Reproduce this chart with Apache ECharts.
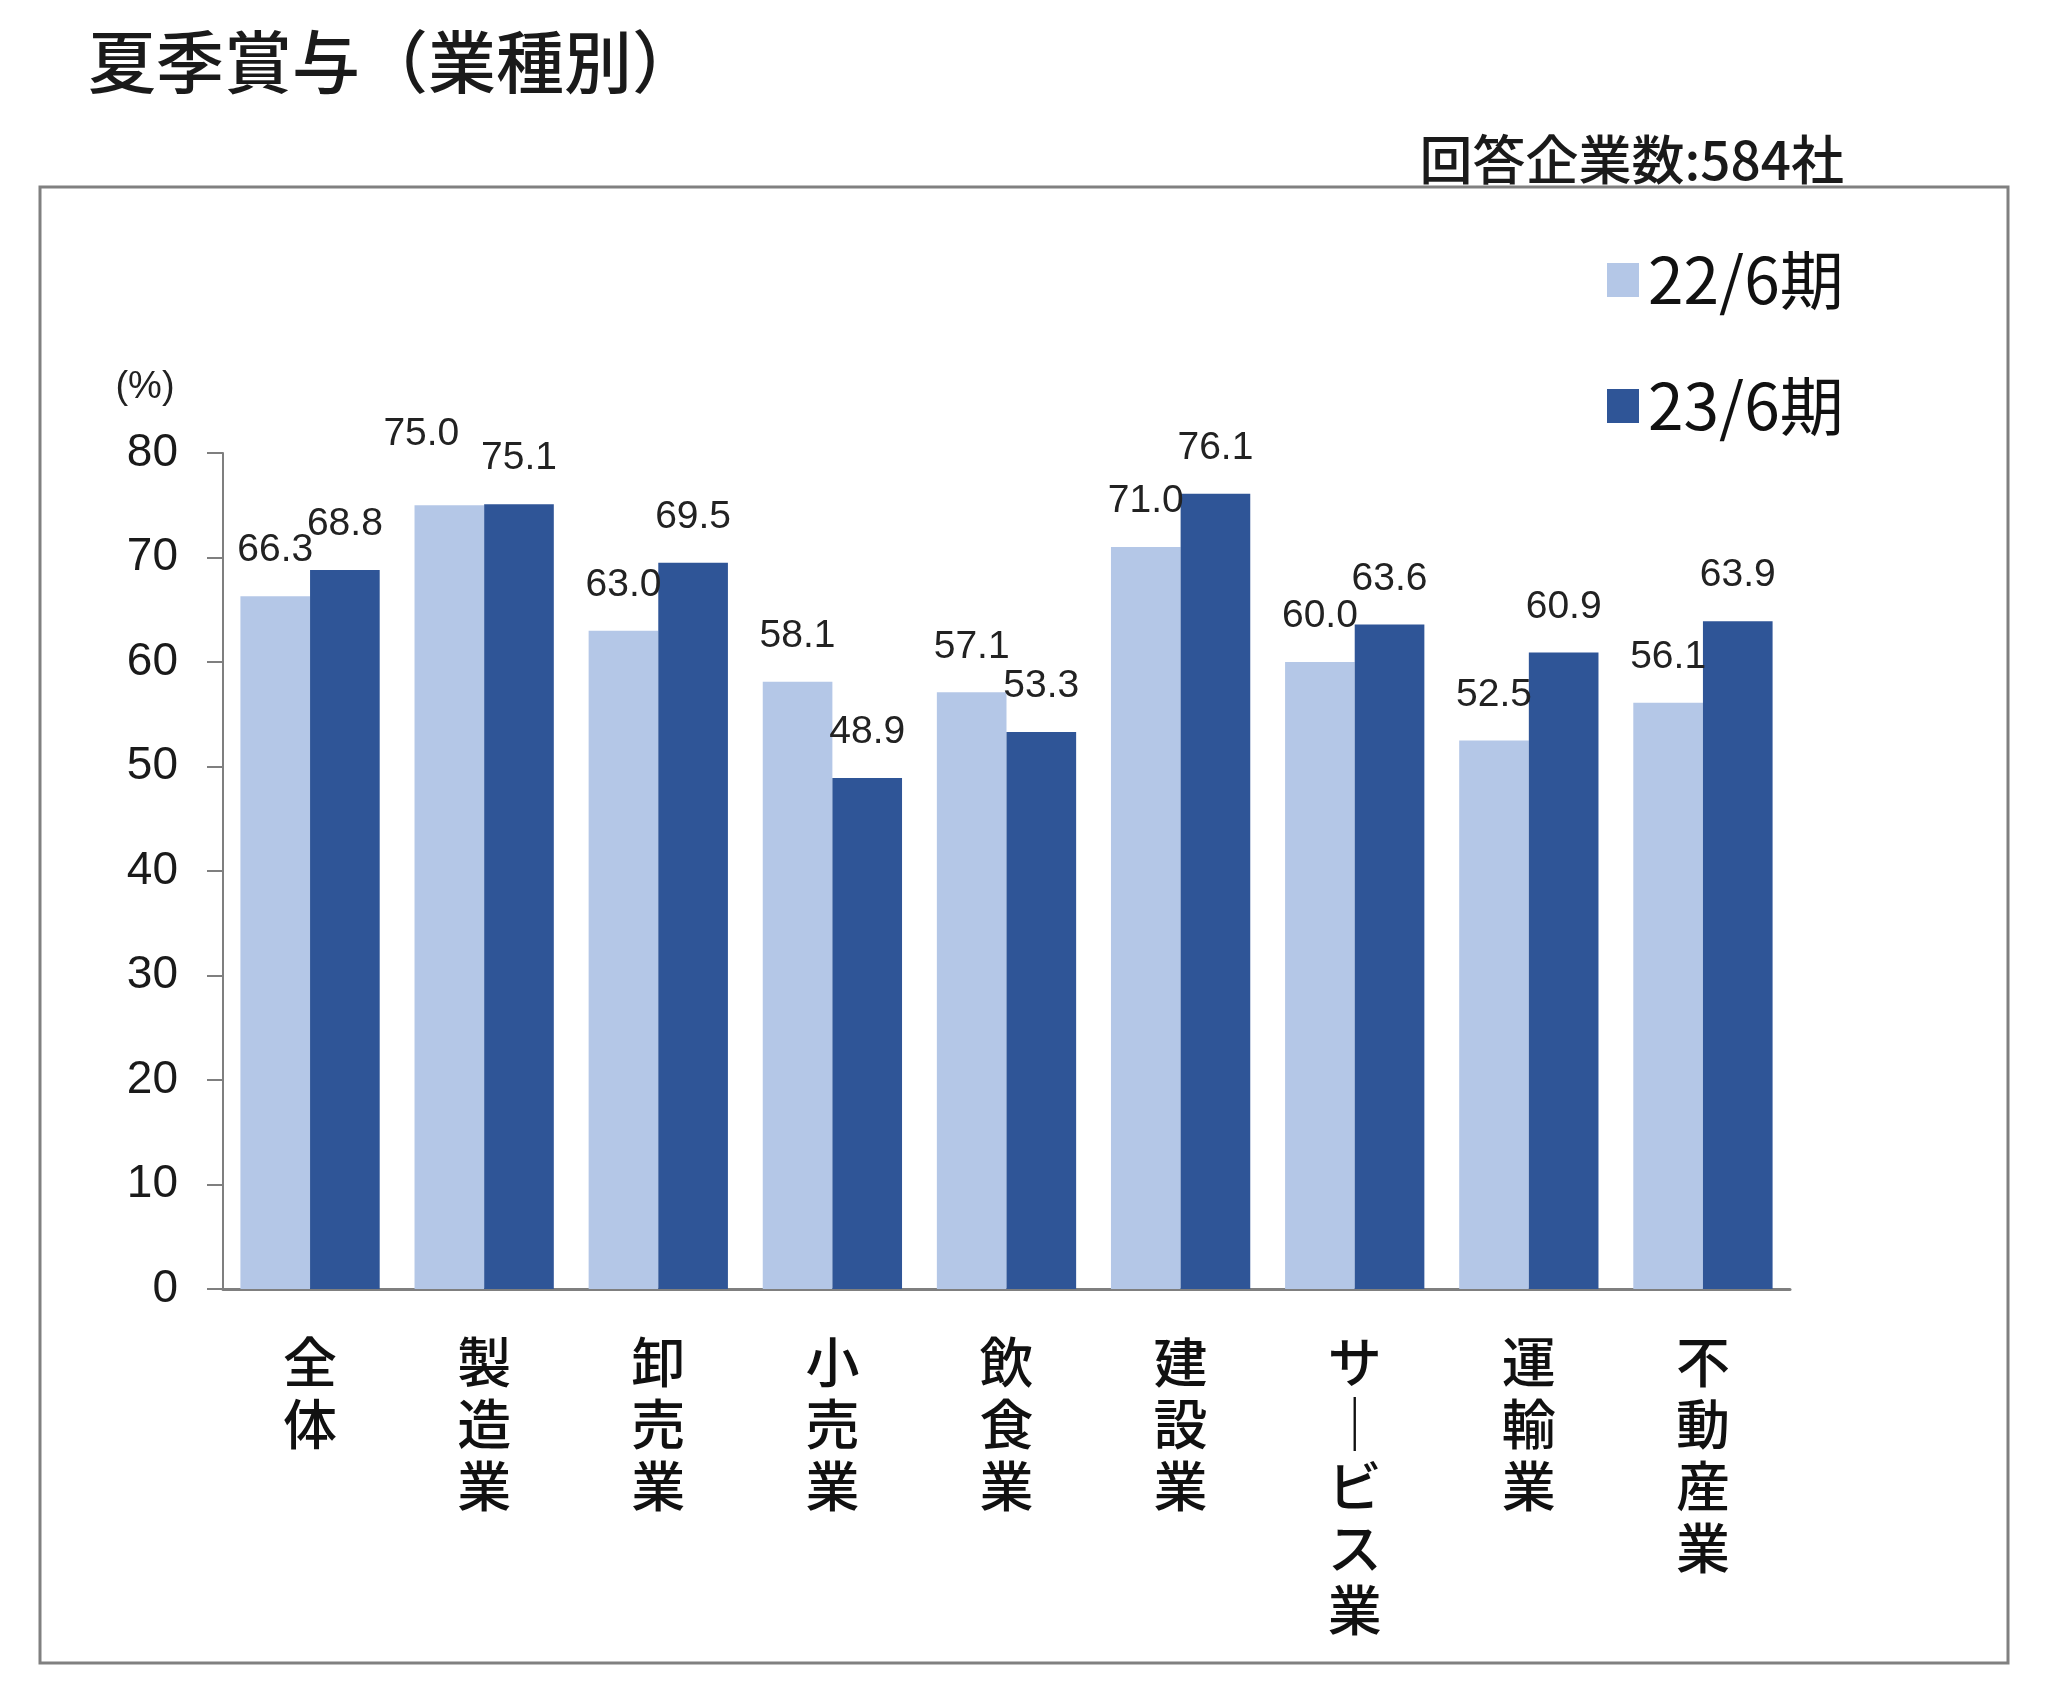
<!DOCTYPE html>
<html lang="ja">
<head>
<meta charset="utf-8">
<title>夏季賞与（業種別）</title>
<script src="https://cdn.jsdelivr.net/npm/echarts@6/dist/echarts.min.js"></script>
<style>
    html, body { margin: 0; padding: 0; background: #fff; }
    #chart { width: 2056px; height: 1695px; }
</style>
</head>
<body>
<div id="chart"></div>
<script>
// データ
const categories = ["全体", "製造業", "卸売業", "小売業", "飲食業", "建設業", "サービス業", "運輸業", "不動産業"]
const seriesNames = ["22/6期", "23/6期"]
const values2022 = [66.3, 75.0, 63.0, 58.1, 57.1, 71.0, 60.0, 52.5, 56.1]
const values2023 = [68.8, 75.1, 69.5, 48.9, 53.3, 76.1, 63.6, 60.9, 63.9]
const yTicks = [0, 10, 20, 30, 40, 50, 60, 70, 80]

const cjk = '"Noto Sans CJK JP", "Noto Sans", sans-serif'
const num = '"Liberation Sans", Arial, sans-serif'

const chart = echarts.init(document.getElementById("chart"), null, { renderer: "canvas" })

// 縦書きラベル（長音符は縦棒で表示）
const vertical = (v) => v.split("").map(c => (c === "ー" ? "｜" : c)).join("\n")

const labelStyle = {
    show: true,
    position: "top",
    distance: 26,
    fontFamily: num,
    fontSize: 39,
    color: "#222",
    formatter: (p) => p.value.toFixed(1),
}

// 同じ高さのラベルが重なる時は左の値を左上へ逃がす
const avoidOverlap = (params) => {
    const i = params.dataIndex
    if (Math.abs(values2022[i] - values2023[i]) < 1.5) {
        return { dx: -28, dy: -26 }
    }
    return {}
}

const option = {
    backgroundColor: "#fff",
    animation: false,
    title: [
        {
            text: "夏季賞与（業種別）",
            left: 88,
            top: 28,
            padding: 0,
            textStyle: { fontFamily: cjk, fontSize: 68, fontWeight: 500, color: "#1a1a1a" },
        },
        {
            text: "回答企業数:584社",
            right: 212,
            top: 133,
            padding: 0,
            textStyle: { fontFamily: cjk, fontSize: 53, fontWeight: 500, color: "#1a1a1a" },
        },
    ],
    graphic: [
        {
            type: "rect",
            shape: { x: 40, y: 187, width: 1968, height: 1476 },
            style: { fill: "none", stroke: "#808080", lineWidth: 3 },
            silent: true,
        },
    ],
    legend: {
        data: seriesNames,
        orient: "vertical",
        left: 1602,
        top: 238,
        itemWidth: 32,
        itemHeight: 34,
        itemGap: 52,
        icon: "rect",
        textStyle: { fontFamily: cjk, fontSize: 64, color: "#111", lineHeight: 74, padding: [0, 0, 0, 4] },
    },
    grid: {
        left: 223,
        top: 453,
        width: 1567,
        height: 836,
        containLabel: false,
    },
    xAxis: {
        type: "category",
        data: categories,
        axisLine: { lineStyle: { color: "#7f7f7f", width: 3 } },
        axisTick: { show: false },
        axisLabel: {
            interval: 0,
            margin: 42,
            fontFamily: cjk,
            fontSize: 54,
            lineHeight: 62,
            fontWeight: 500,
            color: "#111",
            formatter: vertical,
        },
    },
    yAxis: {
        type: "value",
        min: yTicks[0],
        max: yTicks[yTicks.length - 1],
        interval: 10,
        name: "(%)",
        nameLocation: "end",
        nameGap: 46,
        nameTextStyle: {
            fontFamily: num,
            fontSize: 38,
            color: "#222",
            align: "center",
            padding: [0, 156, 0, 0],
        },
        splitLine: { show: false },
        axisLine: { show: true, lineStyle: { color: "#7f7f7f", width: 2 } },
        axisTick: { show: true, length: 16, lineStyle: { color: "#7f7f7f", width: 2 } },
        axisLabel: { margin: 45, fontFamily: num, fontSize: 46, color: "#1a1a1a" },
    },
    series: [
        {
            name: seriesNames[0],
            type: "bar",
            data: values2022,
            barGap: "0%",
            barCategoryGap: "20%",
            itemStyle: { color: "#b4c7e7" },
            label: labelStyle,
            labelLayout: avoidOverlap,
        },
        {
            name: seriesNames[1],
            type: "bar",
            data: values2023,
            barGap: "0%",
            barCategoryGap: "20%",
            itemStyle: { color: "#2f5597" },
            label: labelStyle,
        },
    ],
}

chart.setOption(option)
</script>
</body>
</html>
